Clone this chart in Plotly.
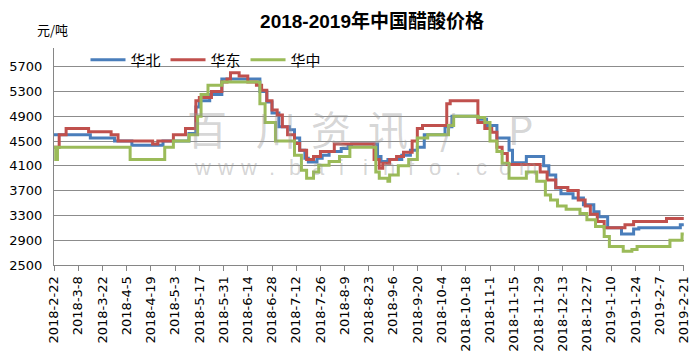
import plotly.graph_objects as go

# Breakpoints of each daily price series (value holds until the next date)
north_dates = ["2018-02-22", "2018-03-15", "2018-03-29", "2018-04-08", "2018-04-26",
               "2018-05-11", "2018-05-15", "2018-05-17", "2018-05-23", "2018-05-30",
               "2018-06-21", "2018-06-25", "2018-06-28", "2018-07-02", "2018-07-08",
               "2018-07-11", "2018-07-14", "2018-07-17", "2018-07-19", "2018-07-24",
               "2018-07-27", "2018-07-31", "2018-08-07", "2018-08-11", "2018-08-13",
               "2018-08-28", "2018-08-30", "2018-09-03", "2018-09-11", "2018-09-16",
               "2018-09-20", "2018-09-24", "2018-10-06", "2018-10-10", "2018-10-25",
               "2018-10-30", "2018-11-05", "2018-11-12", "2018-11-14", "2018-11-22",
               "2018-12-02", "2018-12-05", "2018-12-09", "2018-12-12", "2018-12-19",
               "2018-12-25", "2018-12-31", "2019-01-03", "2019-01-08", "2019-01-16",
               "2019-01-23", "2019-01-26", "2019-02-19", "2019-02-21"]
north_vals = [4600, 4550, 4500, 4430, 4500,
              4620, 5050, 5150, 5250, 5500,
              5300, 5130, 4950, 4730, 4680,
              4550, 4350, 4220, 4160, 4220,
              4270, 4330, 4380, 4420, 4450,
              4250, 4170, 4200, 4270, 4350,
              4400, 4600, 4730, 4900, 4850,
              4750, 4550, 4350, 4150, 4250,
              4100, 3950, 3740, 3650, 3580,
              3470, 3360, 3280, 3100, 3000,
              3080, 3100, 3150, 3150]

east_dates = ["2018-02-22", "2018-02-25", "2018-03-01", "2018-03-14", "2018-03-27",
              "2018-03-31", "2018-04-20", "2018-04-23", "2018-05-02", "2018-05-09",
              "2018-05-15", "2018-05-17", "2018-05-24", "2018-05-30", "2018-06-02",
              "2018-06-04", "2018-06-09", "2018-06-14", "2018-06-19", "2018-06-22",
              "2018-06-25", "2018-06-28", "2018-07-01", "2018-07-04", "2018-07-07",
              "2018-07-11", "2018-07-14", "2018-07-18", "2018-07-22", "2018-07-26",
              "2018-08-03", "2018-08-26", "2018-08-29", "2018-08-31", "2018-09-04",
              "2018-09-08", "2018-09-12", "2018-09-17", "2018-09-20", "2018-09-23",
              "2018-10-07", "2018-10-09", "2018-10-25", "2018-10-29", "2018-11-02",
              "2018-11-05", "2018-11-08", "2018-11-11", "2018-11-30", "2018-12-04",
              "2018-12-09", "2018-12-16", "2018-12-22", "2018-12-26", "2018-12-29",
              "2019-01-02", "2019-01-06", "2019-01-18", "2019-01-23", "2019-02-11",
              "2019-02-21"]
east_vals = [4400, 4600, 4700, 4650, 4600,
             4500, 4450, 4500, 4600, 4700,
             5150, 5200, 5300, 5450, 5500,
             5600, 5550, 5450, 5400, 5320,
             5150, 5000, 4920, 4730, 4600,
             4460, 4350, 4200, 4250, 4330,
             4450, 4200, 4060, 4140, 4200,
             4250, 4320, 4500, 4700, 4750,
             5100, 5150, 4800, 4700, 4640,
             4400, 4300, 4120, 4000, 3870,
             3750, 3700, 3550, 3450, 3320,
             3200, 3100, 3150, 3200, 3250,
             3250]

central_dates = ["2018-02-22", "2018-02-23", "2018-02-24", "2018-04-07", "2018-04-27",
                 "2018-05-02", "2018-05-11", "2018-05-16", "2018-05-18", "2018-05-22",
                 "2018-05-30", "2018-06-21", "2018-06-24", "2018-06-30", "2018-07-11",
                 "2018-07-15", "2018-07-18", "2018-07-22", "2018-07-25", "2018-07-31",
                 "2018-08-06", "2018-08-12", "2018-08-27", "2018-08-29", "2018-09-03",
                 "2018-09-04", "2018-09-09", "2018-09-15", "2018-09-20", "2018-09-26",
                 "2018-10-08", "2018-10-11", "2018-10-25", "2018-10-29", "2018-11-01",
                 "2018-11-05", "2018-11-08", "2018-11-12", "2018-11-22", "2018-11-28",
                 "2018-12-03", "2018-12-06", "2018-12-10", "2018-12-15", "2018-12-23",
                 "2018-12-27", "2019-01-01", "2019-01-06", "2019-01-09", "2019-01-17",
                 "2019-01-22", "2019-01-25", "2019-02-13", "2019-02-20", "2019-02-21"]
central_vals = [4400, 4200, 4400, 4200, 4400,
                4500, 4600, 4900, 5250, 5400,
                5450, 5100, 4800, 4500, 4270,
                4030, 3900, 4000, 4110, 4170,
                4250, 4400, 4000, 3900, 3850,
                3950, 4100, 4200, 4550, 4600,
                4750, 4900, 4880, 4800, 4500,
                4330, 4140, 3900, 4000, 3850,
                3630, 3550, 3450, 3400, 3330,
                3230, 3120, 2960, 2800, 2720,
                2750, 2800, 2900, 3000, 3000]

series_names = ["华北", "华东", "华中"]
series_colors = ["#4A7EBB", "#C0504D", "#9BBB59"]

tick_dates = ["2018-02-22", "2018-03-08", "2018-03-22", "2018-04-05", "2018-04-19",
              "2018-05-03", "2018-05-17", "2018-05-31", "2018-06-14", "2018-06-28",
              "2018-07-12", "2018-07-26", "2018-08-09", "2018-08-23", "2018-09-06",
              "2018-09-20", "2018-10-04", "2018-10-18", "2018-11-01", "2018-11-15",
              "2018-11-29", "2018-12-13", "2018-12-27", "2019-01-10", "2019-01-24",
              "2019-02-07", "2019-02-21"]
tick_labels = ["2018-2-22", "2018-3-8", "2018-3-22", "2018-4-5", "2018-4-19",
               "2018-5-3", "2018-5-17", "2018-5-31", "2018-6-14", "2018-6-28",
               "2018-7-12", "2018-7-26", "2018-8-9", "2018-8-23", "2018-9-6",
               "2018-9-20", "2018-10-4", "2018-10-18", "2018-11-1", "2018-11-15",
               "2018-11-29", "2018-12-13", "2018-12-27", "2019-1-10", "2019-1-24",
               "2019-2-7", "2019-2-21"]
y_ticks = [2500, 2900, 3300, 3700, 4100, 4500, 4900, 5300, 5700]

# watermark glyphs: brand name and web address
mark_chars = ["百", "川", "资", "讯", "/", "P"]
mark_x = [0.243, 0.352, 0.44, 0.53, 0.625, 0.74]
web_chars = list("www.baiinfo.com")

FONT = "DejaVu Sans, Noto Sans CJK SC, sans-serif"
CJK = "Noto Sans CJK SC, sans-serif"
MARK = "rgba(150,150,150,0.4)"

fig = go.Figure()
for name, color, xs, ys in zip(series_names, series_colors,
                               [north_dates, east_dates, central_dates],
                               [north_vals, east_vals, central_vals]):
    fig.add_trace(go.Scatter(x=xs, y=ys, name=name, mode="lines",
                             line=dict(color=color, width=3, shape="hv")))

for ch, px in zip(mark_chars, mark_x):
    fig.add_annotation(x=px, y=0.63, xref="paper", yref="paper", text=ch,
                       showarrow=False, xanchor="center", yanchor="middle",
                       font=dict(family=CJK, size=40, color=MARK))
for i, ch in enumerate(web_chars):
    fig.add_annotation(x=0.235 + i * 0.037, y=0.45, xref="paper", yref="paper",
                       text=ch, showarrow=False, xanchor="center", yanchor="middle",
                       font=dict(family="Liberation Sans, sans-serif", size=22,
                                 color=MARK))

fig.update_layout(
    width=698, height=360,
    margin=dict(l=54, r=7, t=48, b=95),
    paper_bgcolor="white", plot_bgcolor="white",
    title=dict(text="<b>2018-2019年中国醋酸价格</b>", x=0.533, xanchor="center",
               y=0.94, yanchor="middle",
               font=dict(family="Liberation Sans, Noto Sans CJK SC, sans-serif",
                         size=19, color="black")),
    legend=dict(orientation="h", x=0.05, y=0.945, xanchor="left", yanchor="middle",
                bgcolor="rgba(0,0,0,0)", font=dict(family=CJK, size=15, color="black"),
                itemwidth=35, tracegroupgap=0),
    showlegend=True,
)
fig.add_annotation(x=-0.03, y=1.083, xref="paper", yref="paper", text="元/吨",
                   showarrow=False, xanchor="left", yanchor="middle",
                   font=dict(family=CJK, size=13, color="black"))

fig.update_xaxes(type="date", range=["2018-02-22", "2019-02-21 03:00"],
                 tickmode="array", tickvals=tick_dates, ticktext=tick_labels,
                 tickangle=-90, tickfont=dict(family=FONT, size=13, color="black"),
                 ticklabeloverflow="allow",
                 showgrid=False, showline=True, linecolor="#868686", linewidth=1,
                 ticks="outside", ticklen=5, tickcolor="#868686")
fig.update_yaxes(range=[2500, 6000], tickmode="array", tickvals=y_ticks,
                 tickfont=dict(family=FONT, size=13, color="black"),
                 ticklabelstandoff=8,
                 showgrid=True, gridcolor="#8C8C8C", gridwidth=1,
                 showline=True, linecolor="#868686", linewidth=1,
                 zeroline=False, ticks="", ticklen=0)

fig.write_html("out.html")
